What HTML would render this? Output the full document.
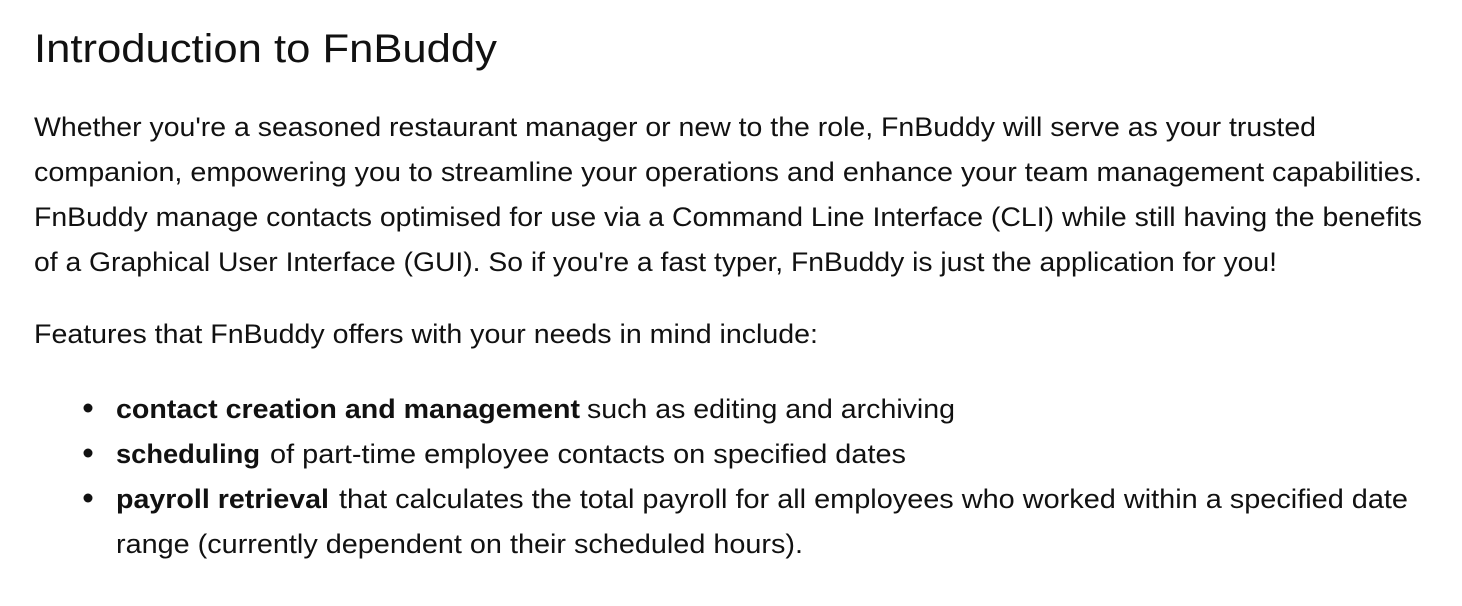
<!DOCTYPE html>
<html><head><meta charset="utf-8"><style>
html,body{margin:0;padding:0;background:#fff;width:1462px;height:606px;overflow:hidden}
svg text{font-family:"Liberation Sans",sans-serif;fill:#111}
</style></head><body>
<svg width="1462" height="606">
<text x="34" y="62" font-size="40" textLength="463" lengthAdjust="spacingAndGlyphs">Introduction to FnBuddy</text>
<g font-size="27">
<text x="34" y="136" textLength="1282" lengthAdjust="spacingAndGlyphs">Whether you're a seasoned restaurant manager or new to the role, FnBuddy will serve as your trusted</text>
<text x="34" y="181" textLength="1388" lengthAdjust="spacingAndGlyphs">companion, empowering you to streamline your operations and enhance your team management capabilities.</text>
<text x="34" y="226" textLength="1388" lengthAdjust="spacingAndGlyphs">FnBuddy manage contacts optimised for use via a Command Line Interface (CLI) while still having the benefits</text>
<text x="34" y="271" textLength="1243" lengthAdjust="spacingAndGlyphs">of a Graphical User Interface (GUI). So if you're a fast typer, FnBuddy is just the application for you!</text>
</g>
<text x="34" y="343" font-size="27" textLength="784" lengthAdjust="spacingAndGlyphs">Features that FnBuddy offers with your needs in mind include:</text>
<g font-size="27">
<circle cx="88" cy="408" r="4.5" fill="#111"/>
<text x="116" y="418" font-weight="bold" textLength="464" lengthAdjust="spacingAndGlyphs">contact creation and management</text>
<text x="587" y="418" textLength="368" lengthAdjust="spacingAndGlyphs">such as editing and archiving</text>
<circle cx="88" cy="453" r="4.5" fill="#111"/>
<text x="116" y="463" font-weight="bold" textLength="144" lengthAdjust="spacingAndGlyphs">scheduling</text>
<text x="270" y="463" textLength="636" lengthAdjust="spacingAndGlyphs">of part-time employee contacts on specified dates</text>
<circle cx="88" cy="498" r="4.5" fill="#111"/>
<text x="116" y="508" font-weight="bold" textLength="213" lengthAdjust="spacingAndGlyphs">payroll retrieval</text>
<text x="339" y="508" textLength="1069" lengthAdjust="spacingAndGlyphs">that calculates the total payroll for all employees who worked within a specified date</text>
<text x="116" y="553" textLength="687" lengthAdjust="spacingAndGlyphs">range (currently dependent on their scheduled hours).</text>
</g>
</svg>
</body></html>
